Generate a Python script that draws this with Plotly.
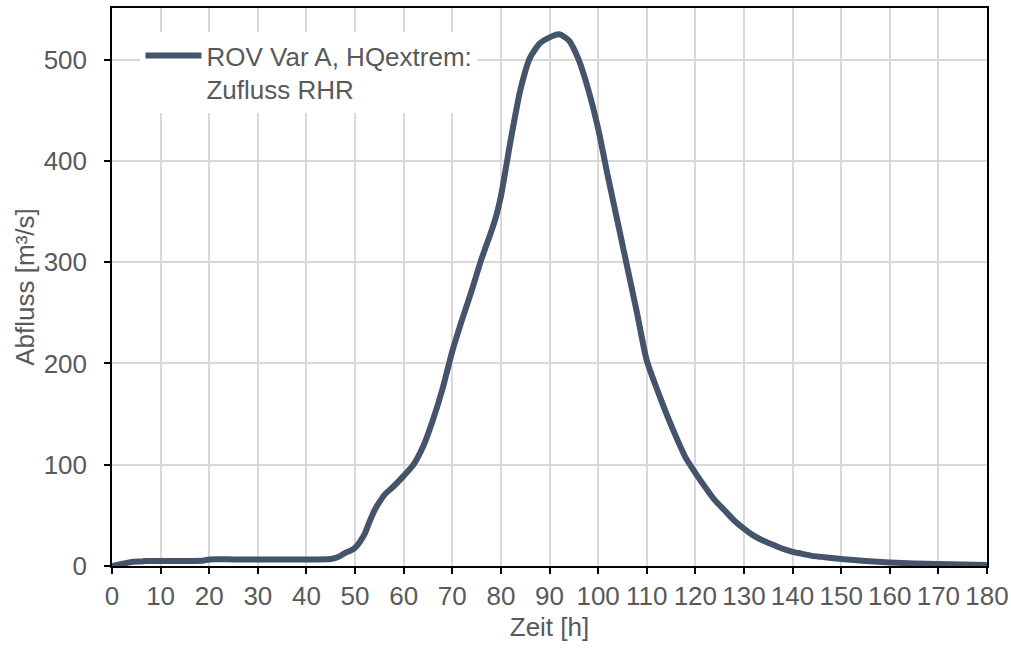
import plotly.graph_objects as go

hours = [0, 2, 4, 6, 7, 10, 15, 19, 20, 25, 30, 35, 40, 45, 46, 47, 48, 49, 50,
         51, 52, 53, 54, 55, 56, 58, 60, 62, 64, 66, 68, 70, 72, 74, 76, 78, 79,
         80, 82, 84, 86, 88, 90, 92, 94, 96, 98, 100, 102, 104, 106, 108, 110,
         112, 114, 116, 118, 120, 122, 124, 126, 128, 130, 132, 134, 136, 138,
         140, 142, 144, 146, 148, 150, 155, 160, 165, 170, 175, 180]
flow = [0, 2, 4, 4.5, 5, 5, 5, 5.5, 6.5, 6.5, 6.5, 6.5, 6.5, 7, 8, 10, 13, 15, 18,
        24, 32, 44, 55, 63, 70, 79, 89, 100, 118, 144, 175, 212, 243, 272, 303, 330, 345,
        365, 420, 470, 502, 516, 522, 525, 519, 500, 470, 432, 385, 340, 295, 250, 203,
        176, 151, 128, 107, 92, 78, 65, 55, 45, 37, 30, 25, 21, 17,
        14, 12, 10, 9, 8, 7, 5, 3.5, 2.5, 2, 1.5, 1]

series_name = "ROV Var A, HQextrem:<br>Zufluss RHR"
x_title = "Zeit [h]"
y_title = "Abfluss [m³/s]"

font_family = "Liberation Sans, Arial, sans-serif"
text_col = "#595959"
grid_col = "#d9d9d9"
fs = 26

fig = go.Figure()
fig.add_trace(go.Scatter(
    x=hours, y=flow, mode="lines", name=series_name,
    line=dict(color="#44546a", width=6, shape="spline", smoothing=0.6),
))

axis_common = dict(
    showgrid=True, gridcolor=grid_col, gridwidth=1.5,
    showline=True, linecolor="black", linewidth=1.5, mirror=True,
    ticks="outside", ticklen=6, tickcolor="black", tickwidth=1.5,
    tickfont=dict(family=font_family, size=fs, color=text_col),
    zeroline=False, automargin=False,
)

fig.update_xaxes(range=[0, 180], dtick=10, tick0=0,
                 title=dict(text=x_title, font=dict(family=font_family, size=fs, color=text_col), standoff=8),
                 **axis_common)
fig.update_yaxes(range=[0, 551], dtick=100, tick0=0, ticklabelstandoff=12,
                 title=dict(text=y_title, font=dict(family=font_family, size=fs, color=text_col), standoff=2),
                 **axis_common)

fig.update_layout(
    width=1011, height=650,
    margin=dict(l=112, r=24, t=8, b=84),
    plot_bgcolor="white", paper_bgcolor="white",
    showlegend=True,
    legend=dict(x=0.0325, y=0.957, xanchor="left", yanchor="top",
                bgcolor="white", valign="top", tracegroupgap=0, itemwidth=56,
                font=dict(family=font_family, size=fs, color=text_col)),
    font=dict(family=font_family, color=text_col),
)

fig.write_html("out.html", config={"displayModeBar": False},
               post_script="document.body.style.margin='0';document.body.style.overflow='hidden';")
